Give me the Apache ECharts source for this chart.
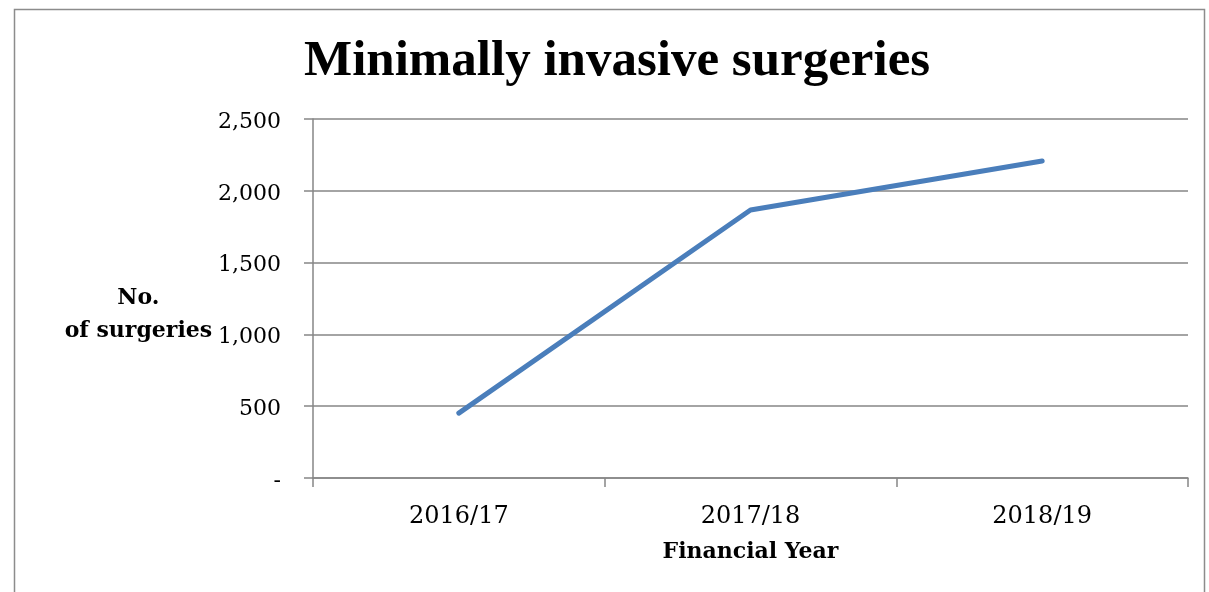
<!DOCTYPE html>
<html>
<head>
<meta charset="utf-8">
<script src="https://cdn.jsdelivr.net/npm/echarts@6/dist/echarts.min.js"></script>
<style>
html,body{margin:0;padding:0;background:#fff;}
#chart{width:1209px;height:592px;}
</style>
</head>
<body>
<div id="chart"></div>
<script>
const categories = ['2016/17', '2017/18', '2018/19'];
const surgeries = [452, 1866, 2208];
const yTicks = { min: 0, max: 2500, interval: 500 };
const titleText = 'Minimally invasive surgeries';
const xName = 'Financial Year';
const yName = '{a|No.}\n{a|of surgeries}';

const chart = echarts.init(document.getElementById('chart'));
const gray = '#868686';
const serif = 'DejaVu Serif';
chart.setOption({
  animation: false,
  backgroundColor: '#fff',
  graphic: [{
    type: 'rect', shape: { x: 14.5, y: 9.5, width: 1190, height: 600 },
    style: { fill: 'none', stroke: '#8c8c8c', lineWidth: 1.5 }, silent: true
  }],
  title: {
    text: titleText, left: 299, top: 31,
    textStyle: { fontFamily: 'Liberation Serif', fontWeight: 'bold', fontSize: 51, color: '#000' }
  },
  grid: { left: 313, right: 21, top: 119, bottom: 114, containLabel: false },
  xAxis: {
    type: 'category', data: categories, boundaryGap: true,
    axisLine: { lineStyle: { color: gray, width: 1.5 } },
    axisTick: { show: true, length: 9, lineStyle: { color: gray, width: 1.5 } },
    axisLabel: { color: '#000', fontFamily: serif, fontSize: 24, margin: 27 },
    name: xName, nameLocation: 'middle', nameGap: 74,
    nameTextStyle: { fontFamily: serif, fontWeight: 'bold', fontSize: 22, color: '#000', verticalAlign: 'middle' }
  },
  yAxis: {
    type: 'value', min: yTicks.min, max: yTicks.max, interval: yTicks.interval,
    axisLine: { show: true, lineStyle: { color: gray, width: 1.5 } },
    axisTick: { show: true, length: 9, lineStyle: { color: gray, width: 1.5 } },
    splitLine: { show: true, lineStyle: { color: gray, width: 1.5 } },
    axisLabel: {
      color: '#000', fontFamily: serif, fontSize: 22, margin: 32,
      formatter: v => '{v|' + (v === 0 ? '-' : v.toLocaleString('en-US')) + '}',
      rich: { v: { fontFamily: serif, fontSize: 22, color: '#000', padding: [6, 0, 0, 0] } }
    },
    name: yName, nameLocation: 'middle', nameRotate: 0, nameGap: 173,
    nameTextStyle: {
      fontFamily: serif, fontWeight: 'bold', fontSize: 22, color: '#000', align: 'center', verticalAlign: 'middle',
      padding: [32, 0, 0, 0],
      rich: { a: { fontFamily: serif, fontWeight: 'bold', fontSize: 22, color: '#000', lineHeight: 33, align: 'center' } }
    }
  },
  series: [{
    type: 'line', data: surgeries, showSymbol: false, symbol: 'none',
    lineStyle: { color: '#4a7ebb', width: 5, cap: 'round', join: 'round' },
    silent: true
  }]
});
</script>
</body>
</html>
